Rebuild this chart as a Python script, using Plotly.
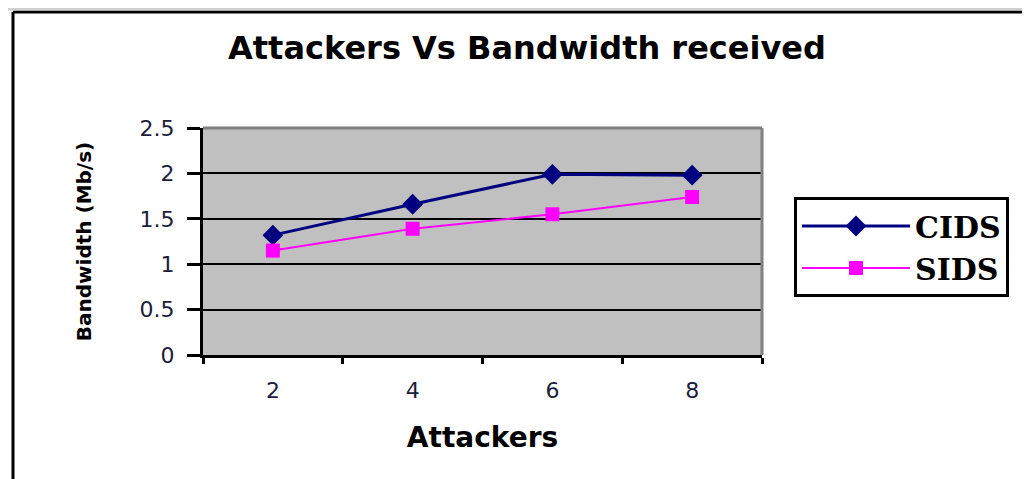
import plotly.graph_objects as go

attackers = ["2", "4", "6", "8"]
cids = [1.32, 1.66, 1.99, 1.98]
sids = [1.15, 1.39, 1.55, 1.74]
y_ticks = [0, 0.5, 1, 1.5, 2, 2.5]
y_tick_labels = ["0", "0.5", "1", "1.5", "2", "2.5"]

W, H = 1030, 479
OFF = 8  # page body margin
# plot area in screen pixels
PL, PR, PT, PB = 203, 762, 128, 355
pw, ph = PR - PL, PB - PT
L, T = PL - OFF, PT - OFF
R, B = W - (PR - OFF), H - (PB - OFF)


def px(sx):
    return (sx - PL) / pw


def py(sy):
    return (PB - sy) / ph


fig = go.Figure()
fig.add_trace(go.Scatter(
    x=attackers, y=cids, name="<b>CIDS</b>", mode="lines+markers",
    line=dict(color="#000080", width=3),
    marker=dict(symbol="diamond", size=16, color="#000080"),
))
fig.add_trace(go.Scatter(
    x=attackers, y=sids, name="<b>SIDS</b>", mode="lines+markers",
    line=dict(color="#FF00FF", width=2),
    marker=dict(symbol="square", size=14, color="#FF00FF"),
))

shapes = [
    dict(type="line", xref="paper", yref="paper", x0=0, x1=1, y0=1, y1=1,
         line=dict(color="#808080", width=3), layer="above"),
    dict(type="line", xref="paper", yref="paper", x0=1, x1=1, y0=0, y1=1,
         line=dict(color="#808080", width=3), layer="above"),
    dict(type="line", xref="paper", yref="paper", x0=px(13), x1=px(1040), y0=py(12), y1=py(12),
         line=dict(color="black", width=3)),
    dict(type="line", xref="paper", yref="paper", x0=px(13), x1=px(13), y0=py(12), y1=py(490),
         line=dict(color="black", width=3)),
    dict(type="line", xref="paper", yref="paper", x0=px(0), x1=px(1040), y0=py(9), y1=py(9),
         line=dict(color="#d0d0d0", width=3)),
]

fig.update_layout(
    width=W, height=H,
    margin=dict(l=L, r=R, t=T, b=B),
    paper_bgcolor="white",
    plot_bgcolor="#C0C0C0",
    title=dict(text="<b>Attackers Vs Bandwidth received</b>",
               x=(527 - OFF) / W, xanchor="center",
               y=1 - (48 - OFF) / H, yanchor="middle",
               font=dict(family="DejaVu Sans", size=32, color="black")),
    xaxis=dict(
        type="category", range=[-0.5, 3.5], tickson="boundaries",
        showline=True, linecolor="black", linewidth=3,
        ticks="outside", ticklen=6, tickwidth=3, tickcolor="black",
        showgrid=False, ticklabelstandoff=14,
        tickfont=dict(family="DejaVu Sans", size=22, color="#1c1c3c"),
        title=dict(text="<b>Attackers</b>", standoff=25,
                   font=dict(family="DejaVu Sans", size=28, color="black")),
    ),
    yaxis=dict(
        range=[0, 2.5], tickvals=y_ticks, ticktext=y_tick_labels,
        showline=True, linecolor="black", linewidth=3,
        ticks="outside", ticklen=13, tickwidth=3, tickcolor="black",
        showgrid=True, gridcolor="black", gridwidth=2, zeroline=False,
        ticklabelstandoff=8,
        tickfont=dict(family="DejaVu Sans", size=22, color="#1c1c3c"),
        title=dict(text="<b>Bandwidth (Mb/s)</b>", standoff=43,
                   font=dict(family="DejaVu Sans", size=20, color="black")),
    ),
    legend=dict(
        x=px(794), y=py(197), xanchor="left", yanchor="top",
        bgcolor="white", bordercolor="black", borderwidth=3,
        font=dict(family="DejaVu Serif", size=30, color="black"),
        itemwidth=108, tracegroupgap=0,
    ),
    shapes=shapes,
    showlegend=True,
)

fig.write_html("out.html")
